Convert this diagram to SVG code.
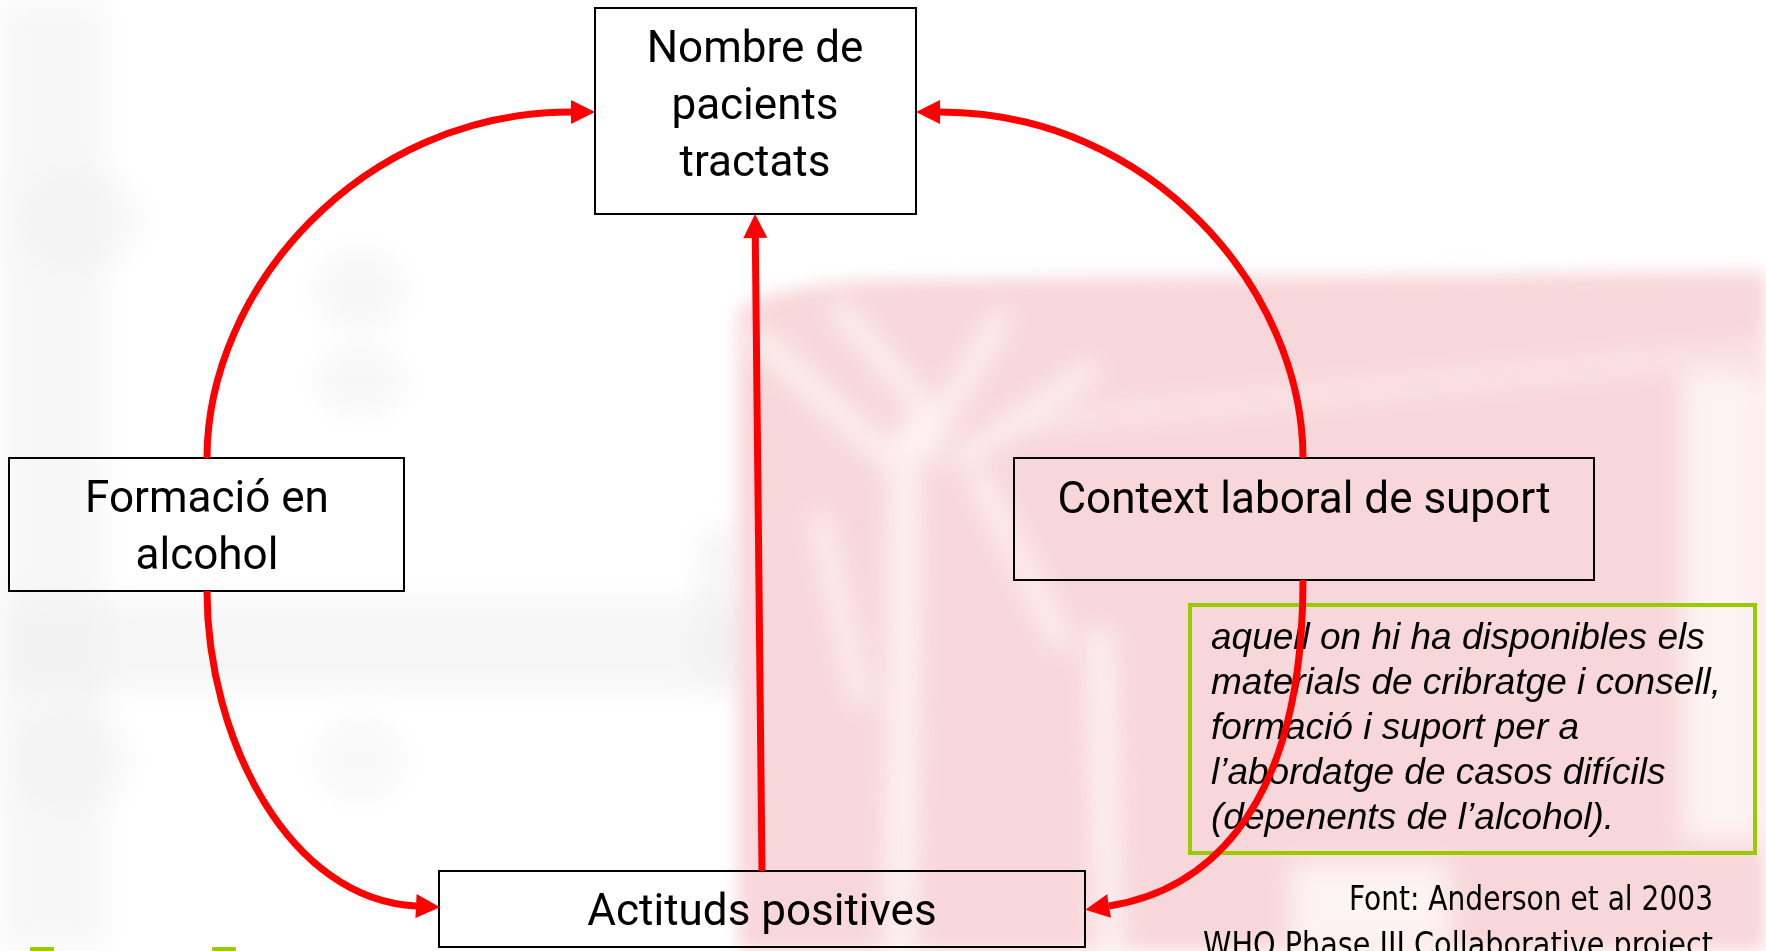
<svg xmlns="http://www.w3.org/2000/svg" width="1766" height="951" viewBox="0 0 1766 951">
<defs>
<style>
.box{fill:none;stroke:#000;stroke-width:2}
.lbl{font-family:Roboto,"Open Sans",sans-serif;font-size:44px;fill:#000;text-anchor:middle}
.note{font-family:"Liberation Sans",Arial,sans-serif;font-style:italic;font-size:37px;fill:#000}
.src{font-family:"DejaVu Sans Condensed","DejaVu Sans",sans-serif;font-size:33px;fill:#000}
.conn{fill:none;stroke:#ff0000;stroke-width:7;marker-end:url(#arr)}
.streak{stroke:#fff;fill:none;stroke-linecap:round}
</style>
<marker id="arr" markerUnits="userSpaceOnUse" markerWidth="26" markerHeight="26" refX="0" refY="12" orient="auto" overflow="visible">
<path d="M0,0 L24,12 L0,24 Z" fill="#ff0000"/>
</marker>
<filter id="blur" x="-10%" y="-10%" width="120%" height="120%"><feGaussianBlur stdDeviation="9"/></filter>
<filter id="blur3" x="-20%" y="-20%" width="140%" height="140%"><feGaussianBlur stdDeviation="13"/></filter>
<filter id="blur2" x="-20%" y="-20%" width="140%" height="140%"><feGaussianBlur stdDeviation="14"/></filter>
</defs>
<rect width="1766" height="951" fill="#fff"/>
<g id="watermark">
<g filter="url(#blur2)" fill="#efefef">
<rect x="0" y="0" width="105" height="951" opacity="0.5"/>
<rect x="0" y="600" width="1000" height="90" rx="30" opacity="0.55"/>
<rect x="700" y="530" width="36" height="160" opacity="0.6"/>
<rect x="770" y="530" width="36" height="160" opacity="0.6"/>
<rect x="900" y="550" width="32" height="140" opacity="0.6"/>
<ellipse cx="360" cy="290" rx="45" ry="40" opacity="0.5"/>
<ellipse cx="360" cy="380" rx="45" ry="35" opacity="0.5"/>
<ellipse cx="360" cy="760" rx="45" ry="40" opacity="0.45"/>
<ellipse cx="80" cy="220" rx="60" ry="50" opacity="0.5"/>
<ellipse cx="70" cy="760" rx="60" ry="50" opacity="0.5"/>
</g>
<g filter="url(#blur)">
<path fill="#f8d7da" d="M738,310 Q780,282 900,280 L1766,272 L1766,951 L738,951 Z"/>
</g>
<g filter="url(#blur3)" opacity="0.7">
<rect x="1682" y="372" width="84" height="470" fill="#fff"/>
<rect x="1290" y="862" width="160" height="89" fill="#fff"/>
<line class="streak" x1="760" y1="340" x2="890" y2="460" stroke-width="22"/>
<line class="streak" x1="840" y1="310" x2="935" y2="420" stroke-width="20"/>
<line class="streak" x1="1000" y1="320" x2="935" y2="430" stroke-width="20"/>
<line class="streak" x1="1090" y1="370" x2="960" y2="460" stroke-width="18"/>
<circle cx="918" cy="440" r="24" fill="#fff"/>
<line class="streak" x1="905" y1="480" x2="900" y2="951" stroke-width="30"/>
<line class="streak" x1="980" y1="480" x2="1060" y2="640" stroke-width="20"/>
<line class="streak" x1="820" y1="520" x2="860" y2="700" stroke-width="18"/>
<line class="streak" x1="1100" y1="640" x2="1110" y2="951" stroke-width="26"/>
<line class="streak" x1="1010" y1="425" x2="1766" y2="350" stroke-width="20" opacity="0.5"/>
</g>
</g>
<g id="node-nombre">
<rect class="box" x="595" y="8" width="321" height="206"/>
<text class="lbl" x="755" y="62">Nombre de</text>
<text class="lbl" x="755" y="119">pacients</text>
<text class="lbl" x="755" y="176">tractats</text>
</g>
<g id="node-formacio">
<rect class="box" x="9" y="458" width="395" height="133"/>
<text class="lbl" x="207" y="512">Formació en</text>
<text class="lbl" x="207" y="569">alcohol</text>
</g>
<g id="node-context">
<rect class="box" x="1014" y="458" width="580" height="122"/>
<text class="lbl" x="1304" y="513">Context laboral de suport</text>
</g>
<g id="node-actituds">
<rect class="box" x="439" y="871" width="646" height="76"/>
<text class="lbl" x="762" y="925">Actituds positives</text>
</g>
<g id="note">
<rect x="1190" y="605" width="565" height="248" fill="none" stroke="#99cc00" stroke-width="4"/>
<text class="note" x="1211" y="649">aquell on hi ha disponibles els</text>
<text class="note" x="1211" y="694">materials de cribratge i consell,</text>
<text class="note" x="1211" y="739">formació i suport per a</text>
<text class="note" x="1211" y="784">l’abordatge de casos difícils</text>
<text class="note" x="1211" y="829">(depenents de l’alcohol).</text>
</g>
<g id="source">
<text class="src" x="1349" y="910" textLength="364" lengthAdjust="spacingAndGlyphs">Font: Anderson et al 2003</text>
<text class="src" x="1203" y="956" textLength="510" lengthAdjust="spacingAndGlyphs">WHO Phase III Collaborative project</text>
</g>
<g id="fragments" fill="#99cc00">
<rect x="30" y="947" width="24" height="4" rx="1"/>
<rect x="212" y="947" width="24" height="4" rx="1"/>
</g>
<g id="connectors">
<path class="conn" d="M207,458 C207,290 360,112 571,112"/>
<path class="conn" d="M1303,458 C1303,290 1151,112 940,112"/>
<path class="conn" d="M207,591 C207,740 290,900 416,906"/>
<path class="conn" d="M1303,580 C1303,830 1190,893 1109,906"/>
<path class="conn" d="M762,871 L755.3,238"/>
</g>
</svg>
